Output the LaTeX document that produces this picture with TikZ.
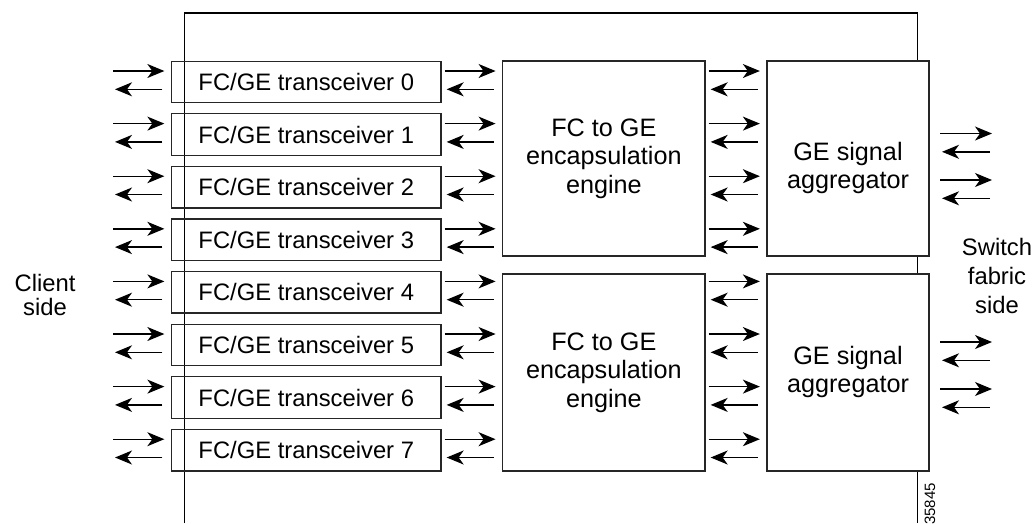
\documentclass[tikz,border=0pt]{standalone}
\usepackage{fontspec}
\setmainfont{Liberation Sans}
\usetikzlibrary{arrows.meta,calc}

\tikzset{
  boxline/.style={line width=1.3pt, draw=black!85},
  unit/.style={boxline, rectangle, minimum width=269.5pt, minimum height=41.5pt,
    inner sep=0pt, font=\fontsize{23.8}{28}\selectfont},
  block/.style={boxline, rectangle, fill=white, inner sep=0pt, minimum width=#1},
  blocktext/.style={align=center, inner sep=0pt, font=\fontsize{25.2}{28.5}\selectfont},
  sidetext/.style={align=center, inner sep=0pt, font=\fontsize{23.8}{#1}\selectfont},
  frame/.style={line width=1.3pt, draw=black},
  fwd/.style={line width=1.4pt, -{Stealth[length=17pt,width=14pt,inset=5pt]}}
}

% a pair of opposite arrows between two x references, placed on a row
\newcommand\duplex[3]{%
  \draw[fwd] let \p1=(#1), \p2=(#2), \p3=(#3) in
    (\x1+3pt,\y3+10.9pt) -- (\x2-6.5pt,\y3+10.9pt);
  \draw[fwd] let \p1=(#1), \p2=(#2), \p3=(#3) in
    (\x2-8.5pt,\y3-7.4pt) -- (\x1+5pt,\y3-7.4pt);
}

\begin{document}
\begin{tikzpicture}[x=1pt,y=-1pt]
  \useasboundingbox (0,0) rectangle (1035,523);

  % card outline
  \coordinate (fbl) at (184.3,523);
  \coordinate (ftl) at (184.3,13);
  \coordinate (ftr) at (917.7,13);
  \coordinate (fbr) at (917.7,523);
  \draw[frame] (fbl) -- (ftl) -- (ftr) -- (fbr);

  % transceivers
  \foreach \i in {0,...,7}{
    \node[unit] (t\i) at (306.25,{81.9+52.6*\i}) {FC/GE transceiver \i};
  }

  % encapsulation engines
  \node[block=202.3pt, minimum height=195pt, align=center,
        font=\fontsize{25.2}{28.5}\selectfont] (e1) at (603.85,158.5)
        {FC to GE\\encapsulation\\engine};
  \node[block=202.3pt, minimum height=197pt, align=center,
        font=\fontsize{25.2}{28.5}\selectfont] (e2) at (603.85,372.5)
        {FC to GE\\encapsulation\\engine};

  % aggregators
  \node[block=162pt, minimum height=195pt] (g1) at (848,158.5) {};
  \node[block=162pt, minimum height=197pt] (g2) at (848,372.5) {};
  \node[blocktext] (g1t) at (848,168) {GE signal\\aggregator};
  \node[blocktext] (g2t) at (848,372) {GE signal\\aggregator};

  % side labels
  \node[sidetext=24] (client) at (45,295) {Client\\side};
  \node[sidetext=29] (fabric) at (997,276) {Switch\\fabric\\side};
  \node[inner sep=0pt, rotate=90, font=\fontsize{15}{16}\selectfont] (num) at (930,504) {35845};

  % free arrow ends
  \coordinate (cl) at (110,0);
  \coordinate (crl) at (937,0);
  \coordinate (cr) at (998.5,0);
  \coordinate (s1) at (937,144.4);
  \coordinate (s2) at (937,190.9);
  \coordinate (s3) at (937,352.9);
  \coordinate (s4) at (937,399.9);

  % client side links
  \foreach \i in {0,...,7}{
    \duplex{cl}{t\i.west}{t\i.center}
  }

  % transceiver to engine links, engine to aggregator links
  \foreach \i in {0,...,3}{
    \duplex{t\i.east}{e1.west}{t\i.center}
    \duplex{e1.east}{g1.west}{t\i.center}
  }
  \foreach \i in {4,...,7}{
    \duplex{t\i.east}{e2.west}{t\i.center}
    \duplex{e2.east}{g2.west}{t\i.center}
  }

  % switch fabric side links
  \foreach \s in {s1,s2,s3,s4}{
    \duplex{crl}{cr}{\s}
  }
\end{tikzpicture}
\end{document}
